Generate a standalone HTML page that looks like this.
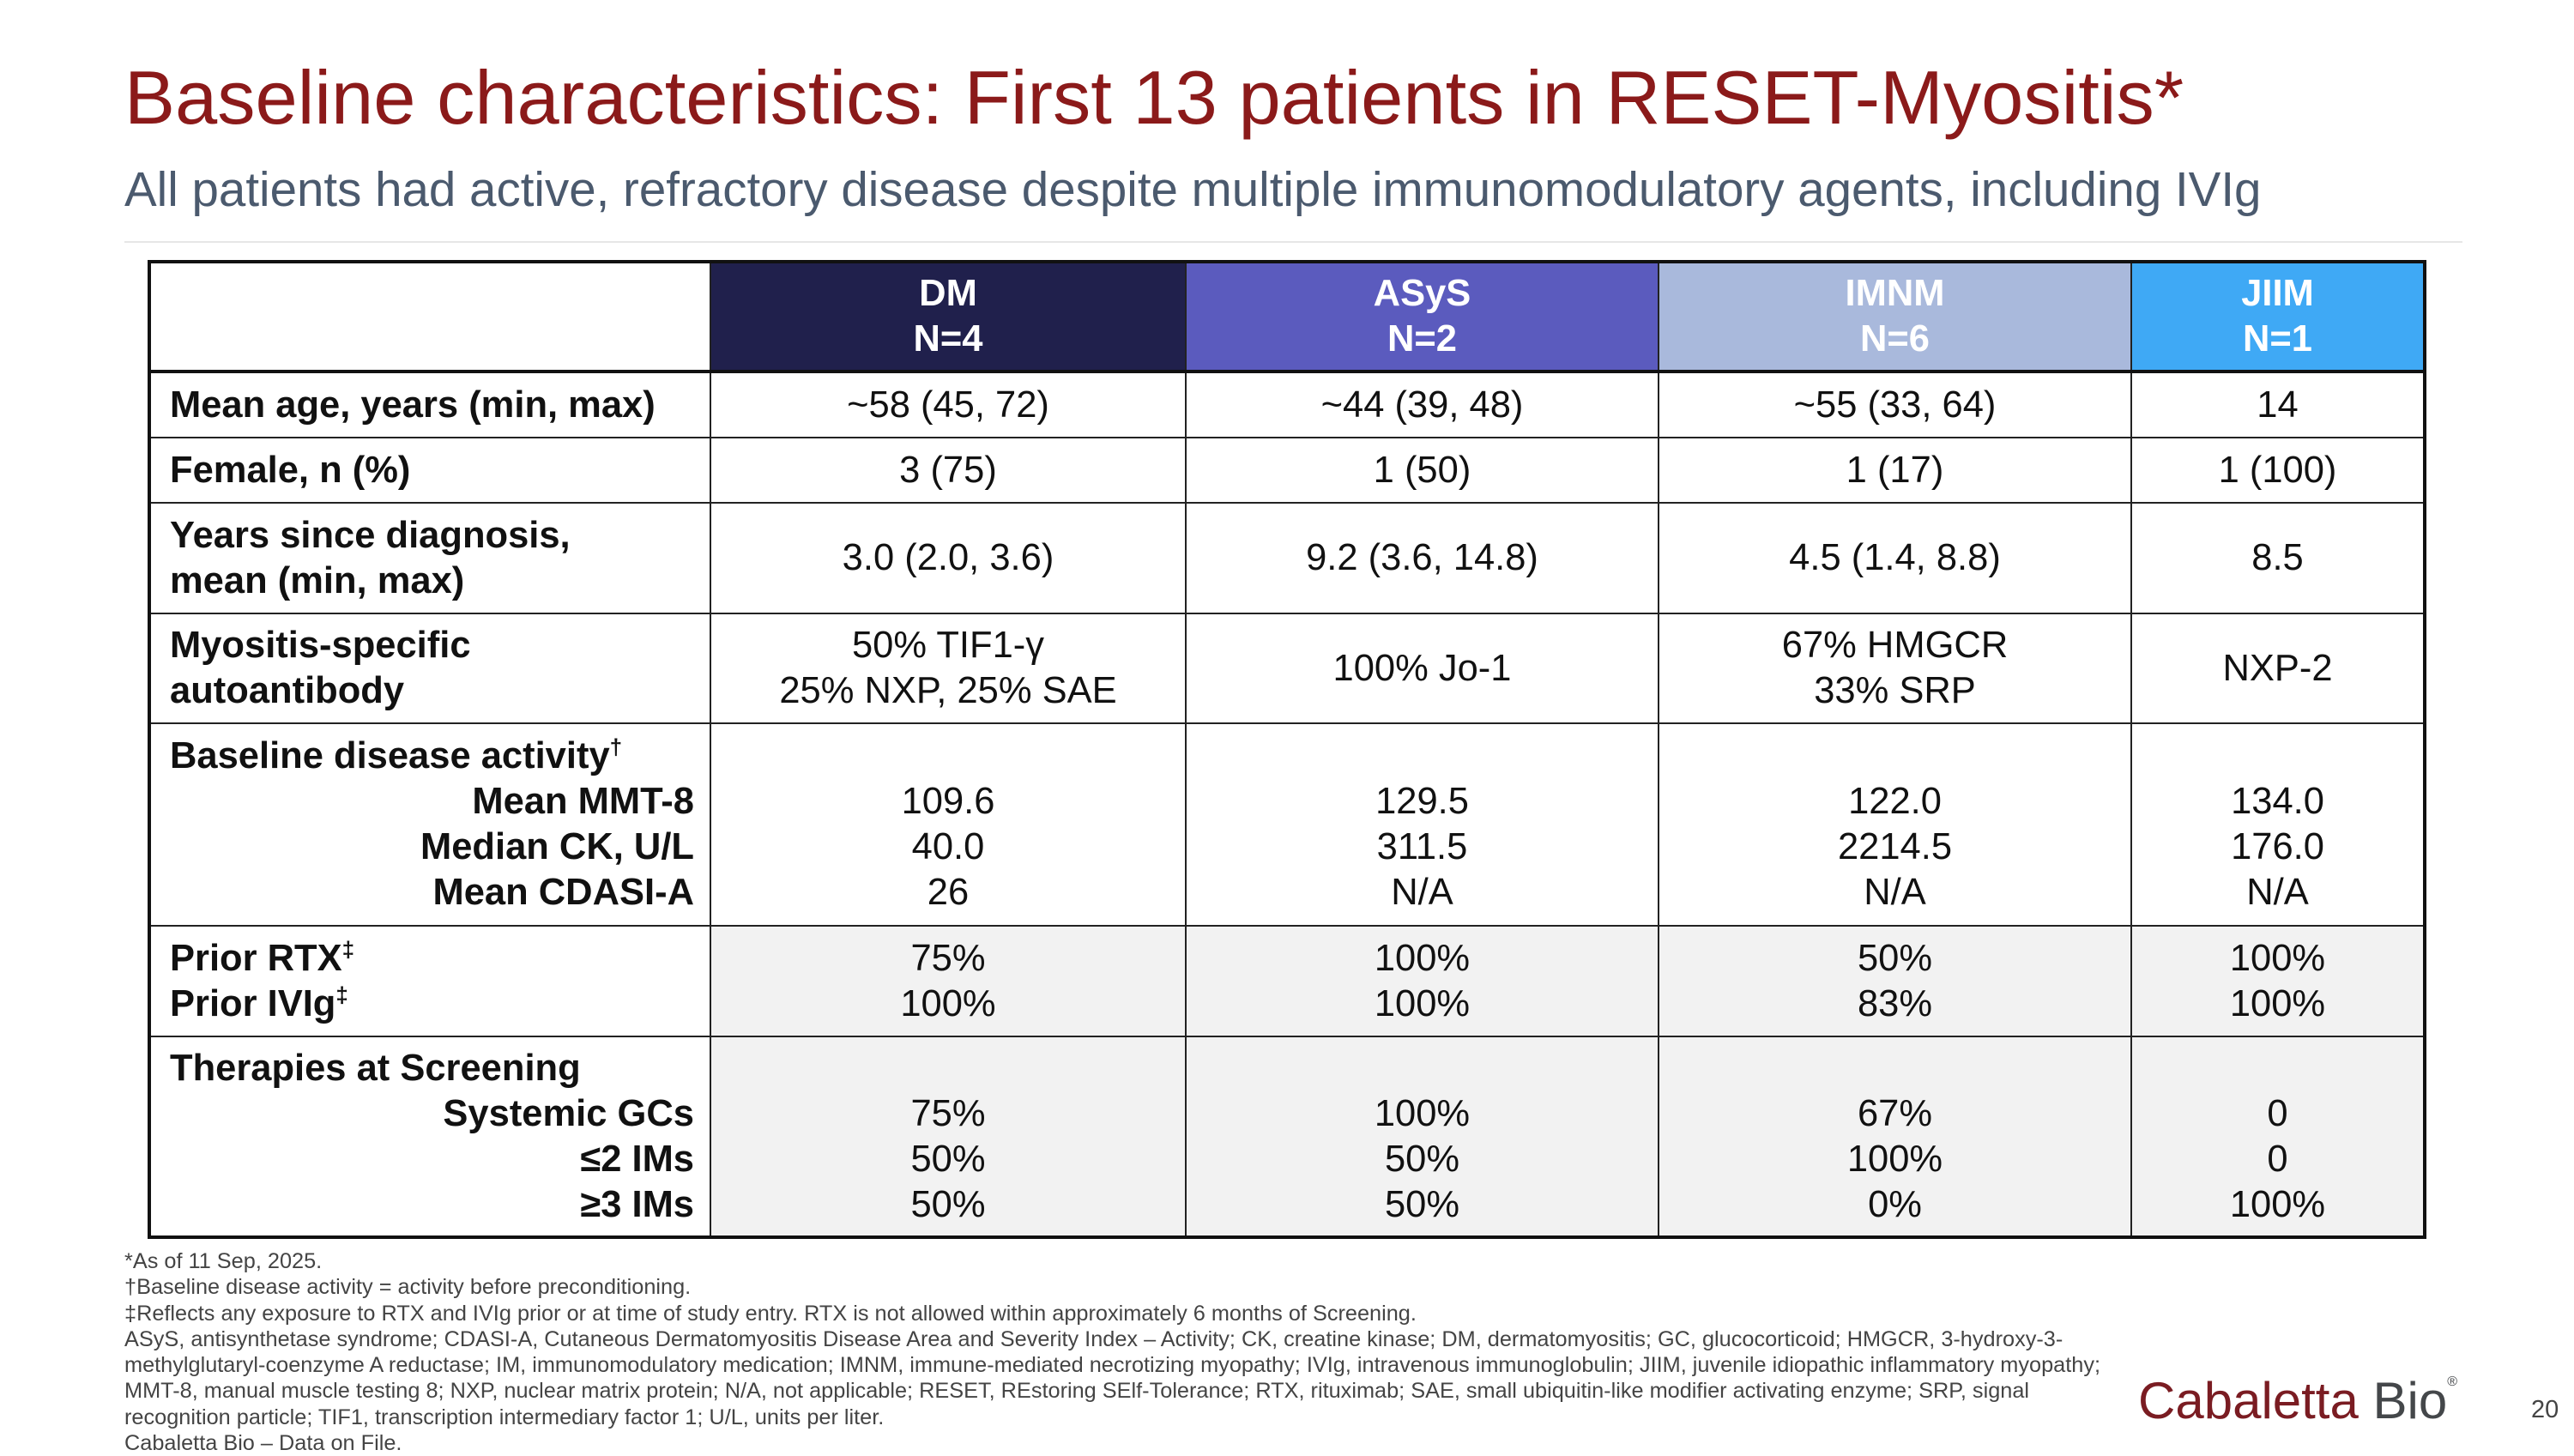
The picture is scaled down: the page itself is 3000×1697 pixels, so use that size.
<!DOCTYPE html>
<html><head><meta charset="utf-8"><style>
*{margin:0;padding:0;box-sizing:border-box}
body{width:3000px;height:1687px;background:#fff;position:relative;overflow:hidden;font-family:"Liberation Sans",Arial,sans-serif}
.title{position:absolute;left:145px;top:70px;font-size:88.5px;color:#8b1a1a;white-space:nowrap;line-height:1}
.sub{position:absolute;left:145px;top:193px;font-size:56.5px;color:#4b5a6e;white-space:nowrap;line-height:1}
.rule{position:absolute;left:145px;top:281px;width:2725px;height:2px;background:#e6e6e6}
table{position:absolute;left:172px;top:303px;width:2652px;border-collapse:collapse;border:4px solid #111;table-layout:fixed}
td{border:2.5px solid #222;font-size:43.5px;color:#111;text-align:center;vertical-align:middle;line-height:53px}
td.l{text-align:left;font-weight:bold;padding-left:22px;padding-right:18px}
th{font-size:43.5px;color:#fff;font-weight:bold;line-height:53px;border:2.5px solid #222;border-bottom:4px solid #111}
.r{text-align:right;display:block}
.g td:not(.l){background:#f2f2f2}
.fn{position:absolute;left:145px;top:1455px;font-size:25.3px;line-height:30.3px;color:#444;width:2500px;white-space:nowrap}
.logo{position:absolute;left:2492px;top:1603px;font-size:60px;line-height:1;white-space:nowrap}
.pg{position:absolute;left:2950px;top:1627px;font-size:29px;color:#444}
</style></head><body>
<div class="title">Baseline characteristics: First 13 patients in RESET-Myositis*</div>
<div class="sub">All patients had active, refractory disease despite multiple immunomodulatory agents, including IVIg</div>
<div class="rule"></div>
<table>
<colgroup><col style="width:654px"><col style="width:554px"><col style="width:551px"><col style="width:551px"><col style="width:342px"></colgroup>
<tr style="height:128px"><th style="background:#fff"></th><th style="background:#20204c">DM<br>N=4</th><th style="background:#5b5bbe">ASyS<br>N=2</th><th style="background:#a9b9dc">IMNM<br>N=6</th><th style="background:#3fa9f5">JIIM<br>N=1</th></tr>
<tr style="height:77px"><td class="l">Mean age, years (min, max)</td><td>~58 (45, 72)</td><td>~44 (39, 48)</td><td>~55 (33, 64)</td><td>14</td></tr>
<tr style="height:76px"><td class="l">Female, n (%)</td><td>3 (75)</td><td>1 (50)</td><td>1 (17)</td><td>1 (100)</td></tr>
<tr style="height:129px"><td class="l">Years since diagnosis,<br>mean (min, max)</td><td>3.0 (2.0, 3.6)</td><td>9.2 (3.6, 14.8)</td><td>4.5 (1.4, 8.8)</td><td>8.5</td></tr>
<tr style="height:128px"><td class="l">Myositis-specific<br>autoantibody</td><td>50% TIF1-γ<br>25% NXP, 25% SAE</td><td>100% Jo-1</td><td>67% HMGCR<br>33% SRP</td><td>NXP-2</td></tr>
<tr style="height:236px"><td class="l">Baseline disease activity<sup style="font-size:26px;line-height:0">†</sup><span class="r">Mean MMT-8</span><span class="r">Median CK, U/L</span><span class="r">Mean CDASI-A</span></td><td><br>109.6<br>40.0<br>26</td><td><br>129.5<br>311.5<br>N/A</td><td><br>122.0<br>2214.5<br>N/A</td><td><br>134.0<br>176.0<br>N/A</td></tr>
<tr class="g" style="height:129px"><td class="l">Prior RTX<sup style="font-size:26px;line-height:0">‡</sup><br>Prior IVIg<sup style="font-size:26px;line-height:0">‡</sup></td><td>75%<br>100%</td><td>100%<br>100%</td><td>50%<br>83%</td><td>100%<br>100%</td></tr>
<tr class="g" style="height:234px"><td class="l">Therapies at Screening<span class="r">Systemic GCs</span><span class="r">≤2 IMs</span><span class="r">≥3 IMs</span></td><td><br>75%<br>50%<br>50%</td><td><br>100%<br>50%<br>50%</td><td><br>67%<br>100%<br>0%</td><td><br>0<br>0<br>100%</td></tr>
</table>
<div class="fn">*As of 11 Sep, 2025.<br>†Baseline disease activity = activity before preconditioning.<br>‡Reflects any exposure to RTX and IVIg prior or at time of study entry. RTX is not allowed within approximately 6 months of Screening.<br>ASyS, antisynthetase syndrome; CDASI-A, Cutaneous Dermatomyositis Disease Area and Severity Index – Activity; CK, creatine kinase; DM, dermatomyositis; GC, glucocorticoid; HMGCR, 3-hydroxy-3-<br>methylglutaryl-coenzyme A reductase; IM, immunomodulatory medication; IMNM, immune-mediated necrotizing myopathy; IVIg, intravenous immunoglobulin; JIIM, juvenile idiopathic inflammatory myopathy;<br>MMT-8, manual muscle testing 8; NXP, nuclear matrix protein; N/A, not applicable; RESET, REstoring SElf-Tolerance; RTX, rituximab; SAE, small ubiquitin-like modifier activating enzyme; SRP, signal<br>recognition particle; TIF1, transcription intermediary factor 1; U/L, units per liter.<br>Cabaletta Bio – Data on File.</div>
<div class="logo"><span style="color:#7a1c22">Cabaletta</span> <span style="color:#44474a">Bio</span><sup style="font-size:16px;color:#44474a;vertical-align:top">®</sup></div>
<div class="pg">20</div>
</body></html>
